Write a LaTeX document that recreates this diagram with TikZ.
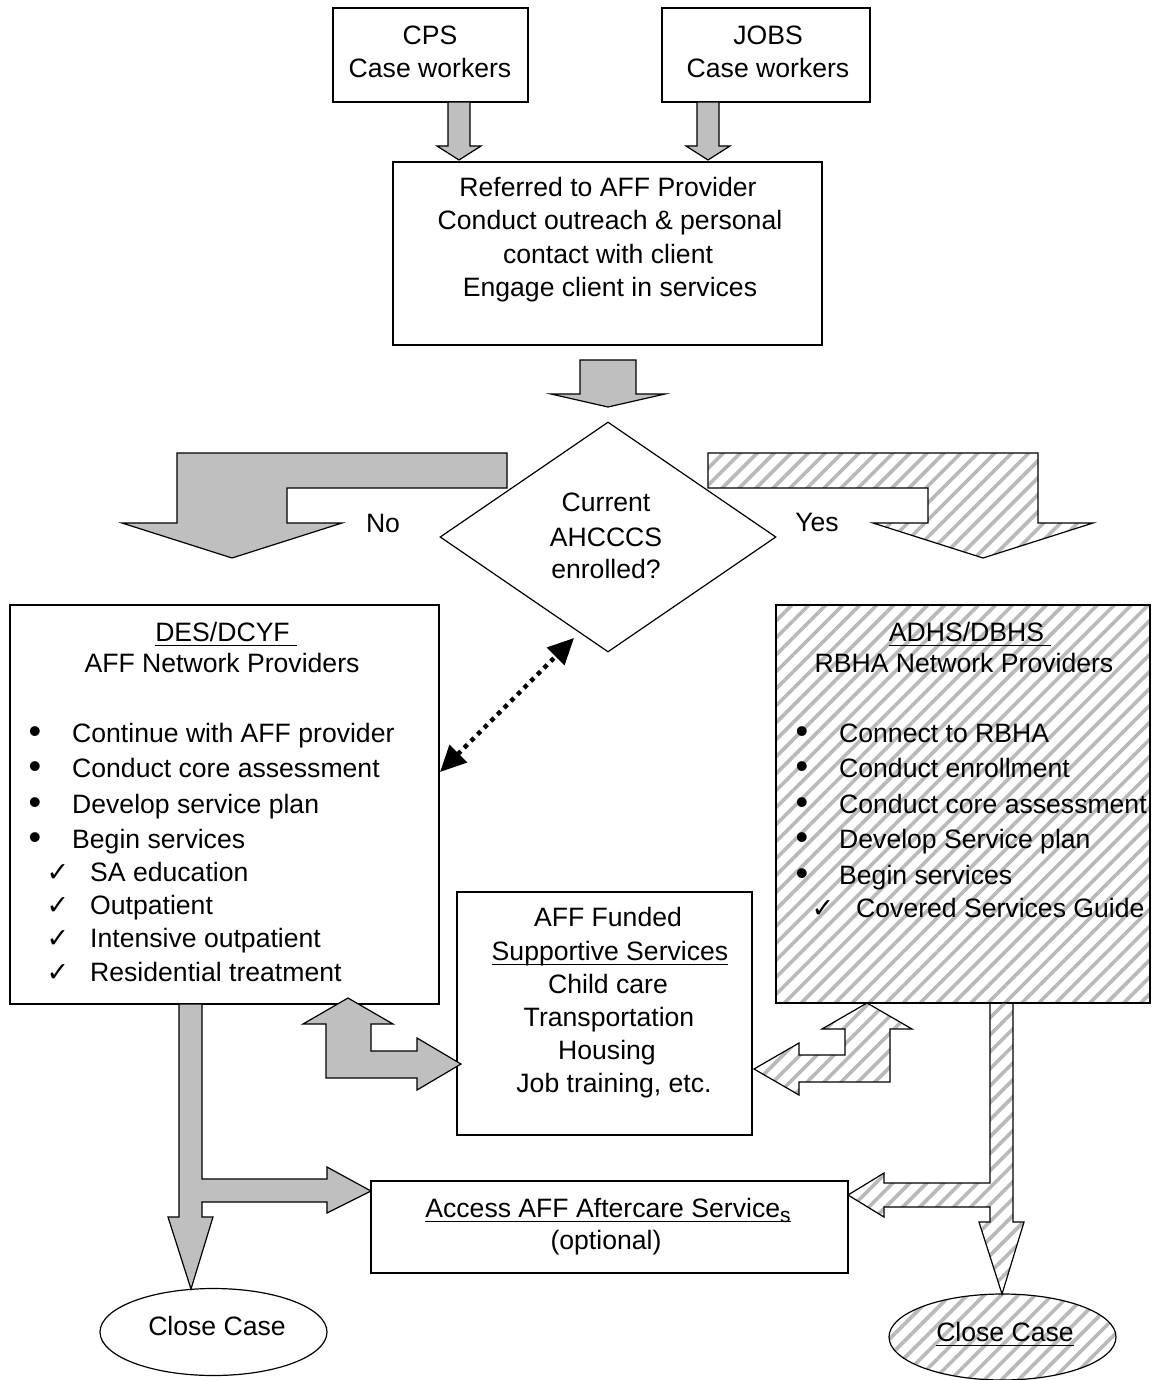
\documentclass[tikz,border=0pt]{standalone}
\usepackage{fontspec}
\setmainfont{Liberation Sans}
\newfontfamily\symfont{DejaVu Sans}
\usetikzlibrary{shapes.geometric,arrows.meta,patterns.meta}
\newcommand\ulbox[2][0pt]{\setbox0\hbox{#2\kern#1}\rlap{\rule[-4.5pt]{\wd0}{1.3pt}}\box0}
\newcommand\chk{{\symfont\fontsize{27}{27}\selectfont ✓}}
\newcommand\bul{{\fontsize{36}{36}\selectfont •}}
\begin{document}
\begin{tikzpicture}[x=1pt,y=-1pt,
  box/.style={draw, rectangle, inner sep=0pt, line width=1.2pt},
  hatch/.style={pattern={Lines[angle=45,distance=12pt,line width=3.6pt]}, pattern color=gray!55},
  grayarrow/.style={draw, fill=gray!50, line width=1.2pt, line join=miter},
  hatcharrow/.style={draw, hatch, line width=1.2pt, line join=miter},
  txt/.style={inner sep=0pt, anchor=mid, yshift=-7pt, font=\fontsize{26.6}{33}\selectfont},
  ltxt/.style={txt, anchor=mid west},
  btxt/.style={inner sep=0pt, anchor=center},
  dotarr/.style={line width=4.5pt, dash pattern=on 4.5pt off 4.9pt,
    {Triangle[length=26pt,width=24pt]}-{Triangle[length=26pt,width=24pt]}, shorten <=0pt, shorten >=0pt}
]
\useasboundingbox (0,0) rectangle (1151,1380);

% ---------- boxes ----------
\node[box, minimum width=195pt, minimum height=94pt] (cps) at (430.5,55) {};
\node[box, minimum width=208pt, minimum height=94pt] (jobs) at (766,55) {};
\node[box, minimum width=429pt, minimum height=183pt] (ref) at (607.5,253.5) {};
\node[draw, diamond, inner sep=0pt, minimum width=336pt, minimum height=230pt, line width=1.2pt] (dia) at (608,537) {};
\node[box, minimum width=429pt, minimum height=399pt] (lbox) at (224.5,804.5) {};
\node[box, hatch, minimum width=374pt, minimum height=398pt] (rbox) at (963,804) {};
\node[box, minimum width=295pt, minimum height=243pt] (mbox) at (604.5,1013.5) {};
\node[box, minimum width=477pt, minimum height=92pt] (acc) at (609.5,1227) {};
\node[draw, ellipse, inner sep=0pt, minimum width=227pt, minimum height=87pt, line width=1.2pt] (lclose) at (213.5,1332) {};
\node[draw, ellipse, hatch, inner sep=0pt, minimum width=227pt, minimum height=86pt, line width=1.2pt] (rclose) at (1002.5,1337) {};

% ---------- texts ----------
\node[txt] (cps1) at (430,35) {CPS};
\node[txt] (cps2) at (430,68) {Case workers};
\node[txt] (jobs1) at (768,35) {JOBS};
\node[txt] (jobs2) at (768,68) {Case workers};

\node[txt] (ref1) at (608,187) {Referred to AFF Provider};
\node[txt] (ref2) at (610,220) {Conduct outreach \& personal};
\node[txt] (ref3) at (608,254) {contact with client};
\node[txt] (ref4) at (610,287) {Engage client in services};

\node[txt] (dia1) at (606,502) {Current};
\node[txt] (dia2) at (606,537) {AHCCCS};
\node[txt] (dia3) at (606,569) {enrolled?};

\node[txt] (no) at (383,523) {No};
\node[txt] (yes) at (817,522) {Yes};

\node[txt] (l0) at (226,632) {\ulbox[7pt]{DES/DCYF}};
\node[txt] (l1) at (222,663) {AFF Network Providers};
\node[btxt] (lb1) at (35,735) {\bul};
\node[btxt] (lb2) at (35,770) {\bul};
\node[btxt] (lb3) at (35,806) {\bul};
\node[btxt] (lb4) at (35,841) {\bul};
\node[ltxt] (lt1) at (72,733) {Continue with AFF provider};
\node[ltxt] (lt2) at (72,768) {Conduct core assessment};
\node[ltxt] (lt3) at (72,804) {Develop service plan};
\node[ltxt] (lt4) at (72,839) {Begin services};
\node[txt] (lc1) at (58,872) {\chk};
\node[txt] (lc2) at (58,905) {\chk};
\node[txt] (lc3) at (58,938) {\chk};
\node[txt] (lc4) at (58,972) {\chk};
\node[ltxt] (lct1) at (90,872) {SA education};
\node[ltxt] (lct2) at (90,905) {Outpatient};
\node[ltxt] (lct3) at (90,938) {Intensive outpatient};
\node[ltxt] (lct4) at (90,972) {Residential treatment};

\node[txt] (r0) at (970,632) {\ulbox[7pt]{ADHS/DBHS}};
\node[txt] (r1) at (964,663) {RBHA Network Providers};
\node[btxt] (rb1) at (802,735) {\bul};
\node[btxt] (rb2) at (802,770) {\bul};
\node[btxt] (rb3) at (802,806) {\bul};
\node[btxt] (rb4) at (802,841) {\bul};
\node[btxt] (rb5) at (802,877) {\bul};
\node[ltxt] (rt1) at (839,733) {Connect to RBHA};
\node[ltxt] (rt2) at (839,768) {Conduct enrollment};
\node[ltxt] (rt3) at (839,804) {Conduct core assessment};
\node[ltxt] (rt4) at (839,839) {Develop Service plan};
\node[ltxt] (rt5) at (839,875) {Begin services};
\node[txt] (rc1) at (823,908) {\chk};
\node[ltxt] (rct1) at (856,908) {Covered Services Guide};

\node[txt] (m1) at (608,917) {AFF Funded};
\node[txt] (m2) at (610,951) {\ulbox{Supportive Services}};
\node[txt] (m3) at (608,984) {Child care};
\node[txt] (m4) at (609,1017) {Transportation};
\node[txt] (m5) at (607,1050) {Housing};
\node[txt] (m6) at (614,1083) {Job training, etc.};

\node[txt] (a1) at (608,1208) {\ulbox{Access AFF Aftercare Service\raisebox{-5pt}{\fontsize{21}{21}\selectfont s}}};
\node[txt] (a2) at (606,1240) {(optional)};

\node[txt] (lcl) at (217,1326) {Close Case};
\node[txt] (rcl) at (1005,1332) {\ulbox{Close Case}};

% ---------- block arrows ----------
\draw[grayarrow] (448,102) -- (470,102) -- (470,146) -- (481,146) -- (459,160) -- (437,146) -- (448,146) -- cycle;
\draw[grayarrow] (697,102) -- (719,102) -- (719,146) -- (730,146) -- (708,160) -- (686,146) -- (697,146) -- cycle;
\draw[grayarrow] (580,360) -- (636,360) -- (636,394) -- (665,394) -- (608,407) -- (551,394) -- (580,394) -- cycle;

\draw[grayarrow] (177,453) -- (507,453) -- (507,488) -- (287,488) -- (287,523) -- (342,523) -- (232,558) -- (122,523) -- (177,523) -- cycle;
\draw[hatcharrow] (708,453) -- (1038,453) -- (1038,523) -- (1093,523) -- (983,558) -- (873,523) -- (928,523) -- (928,488) -- (708,488) -- cycle;

\draw[grayarrow] (348,998) -- (393,1024) -- (371,1024) -- (371,1051) -- (417,1051) -- (417,1038) -- (461,1064) -- (417,1090) -- (417,1078) -- (326,1078) -- (326,1024) -- (303,1024) -- cycle;
\draw[hatcharrow] (867,1003) -- (912,1029) -- (890,1029) -- (890,1082) -- (799,1082) -- (799,1095) -- (754,1069) -- (799,1043) -- (799,1055) -- (845,1055) -- (845,1029) -- (822,1029) -- cycle;

\draw[grayarrow] (179,1004) -- (202,1004) -- (202,1179) -- (327,1179) -- (327,1167) -- (371,1191) -- (327,1213) -- (327,1202) -- (202,1202) -- (202,1217) -- (213,1217) -- (191,1289) -- (168,1217) -- (179,1217) -- cycle;
\draw[hatcharrow] (990,1003) -- (1013,1003) -- (1013,1222) -- (1024,1222) -- (1002,1294) -- (979,1222) -- (990,1222) -- (990,1207) -- (884,1207) -- (884,1217) -- (848,1195) -- (884,1173) -- (884,1183) -- (990,1183) -- cycle;

% ---------- dotted double arrow ----------
\coordinate (dA) at (440,772);
\coordinate (dB) at (574,638);
\draw[dotarr] (dA) -- (dB);
\end{tikzpicture}
\end{document}
